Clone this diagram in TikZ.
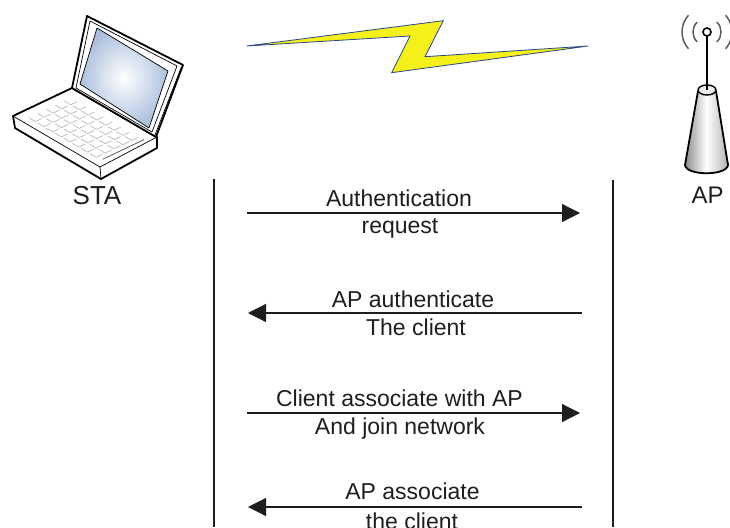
\documentclass[tikz,border=0pt]{standalone}
\usepackage{fontspec}
\setmainfont{Liberation Sans}
\usetikzlibrary{arrows.meta}
\definecolor{boltfill}{RGB}{245,240,25}
\definecolor{boltline}{RGB}{40,70,140}
\definecolor{screenblue}{RGB}{172,192,222}
\definecolor{inkgray}{RGB}{30,30,30}
\begin{document}
\begin{tikzpicture}[x=1pt,y=-1pt,
  msg/.style={line width=1.2pt,draw=inkgray,-{Triangle[length=18pt,width=18pt]}},
  lifeline/.style={line width=1.3pt,draw=inkgray},
  lbl/.style={anchor=base,inner sep=0pt,font=\fontsize{23}{27}\selectfont,text=inkgray},
  devname/.style={anchor=base,inner sep=0pt,text=inkgray},
  thick outline/.style={line width=1.8pt,line join=round},
  thin outline/.style={line width=0.7pt,line join=round},
  keyline/.style={line width=0.6pt,draw=black!30,line join=round}]
\useasboundingbox (0,0) rectangle (730,527);

% ---------- laptop (STA) ----------
% base
\filldraw[fill=white,draw=black,thick outline]
  (72,88) -- (13,116) -- (15,128) -- (101,179) -- (157,148) -- (157,137) -- cycle;
\draw[thin outline] (13,116) -- (100,167) -- (157,137);
\draw[thin outline] (100,167) -- (101,179);
% keys
\begin{scope}[shift={(13,116)},x={(87pt,-51pt)},y={(59pt,28pt)}]
  \foreach \i in {0,...,7}
    \foreach \j in {0,...,4}
      \draw[keyline] ({0.1+\i*0.1},{0.12+\j*0.15}) -- ++(0.075,0) -- ++(0,0.11);
  \draw[thin outline,draw=black!70] (0.93,0.15) -- (0.93,0.85);
\end{scope}
% lid
\filldraw[fill=white,draw=black,thick outline]
  (87,16) -- (183,65) -- (156,137) -- (72,88) -- cycle;
\draw[thin outline] (90,21) -- (177,66) -- (152,132) -- (76,88) -- cycle;
\draw[thin outline] (181,68) -- (155,135);
\shade[inner color=white,outer color=screenblue]
  (97,28) -- (168,71) -- (149,128) -- (80,84) -- cycle;
\draw[thin outline] (97,28) -- (168,71) -- (149,128) -- (80,84) -- cycle;
\node[devname,font=\fontsize{26}{30}\selectfont] (sta) at (97,204) {STA};

% ---------- radio link ----------
\filldraw[fill=boltfill,draw=boltline,line width=0.8pt,line join=miter]
  (246.7,46) -- (443.3,20.7) -- (425,56.7) -- (588.3,46)
  -- (391.7,72.7) -- (410,36) -- cycle;

% ---------- access point (AP) ----------
\coordinate (ball) at (707,32);
\foreach \r/\a in {14/45,25/42}{
  \draw[line width=1.5pt,draw=black!65] ([shift={(180-\a:\r)}]ball) arc[start angle=180-\a,end angle=180+\a,radius=\r];
  \draw[line width=1.5pt,draw=black!65] ([shift={(-\a:\r)}]ball) arc[start angle=-\a,end angle=\a,radius=\r];
}
\shade[left color=black!45,right color=black!30,middle color=white]
  (698,91) -- (685,165) .. controls (686,176) and (727,176) .. (728,165) -- (716,91) -- cycle;
\draw[thick outline]
  (698,91) -- (685,165) .. controls (686,176) and (727,176) .. (728,165) -- (716,91);
\filldraw[fill=black!8,draw=black,line width=1.4pt] (707,90) ellipse[x radius=9,y radius=5];
\draw[line width=1.8pt] (707,36) -- (707,90);
\filldraw[fill=white,draw=black,line width=1.6pt] (ball) circle[radius=4];
\node[devname,font=\fontsize{24}{28}\selectfont] (ap) at (707.5,203) {AP};

% ---------- lifelines ----------
\coordinate (staTop) at (214,179);
\coordinate (staBot) at (214,527);
\coordinate (apTop) at (613,180);
\coordinate (apBot) at (613,527);
\draw[lifeline] (staTop) -- (staBot);
\draw[lifeline] (apTop) -- (apBot);

% ---------- messages ----------
\coordinate (m1a) at (247,213);  \coordinate (m1b) at (580,213);
\coordinate (m2a) at (582,313);  \coordinate (m2b) at (248,313);
\coordinate (m3a) at (247,413);  \coordinate (m3b) at (580,413);
\coordinate (m4a) at (582,507);  \coordinate (m4b) at (248,507);
\draw[msg] (m1a) -- (m1b);
\draw[msg] (m2a) -- (m2b);
\draw[msg] (m3a) -- (m3b);
\draw[msg] (m4a) -- (m4b);

\node[lbl] (m1top) at (399,206) {Authentication};
\node[lbl] (m1bot) at (400,233) {request};
\node[lbl] (m2top) at (413,307) {AP authenticate};
\node[lbl] (m2bot) at (416,335) {The client};
\node[lbl] (m3top) at (399.5,406) {Client associate with AP};
\node[lbl] (m3bot) at (400,434) {And join network};
\node[lbl] (m4top) at (412.5,499) {AP associate};
\node[lbl] (m4bot) at (412,529) {the client};
\end{tikzpicture}
\end{document}
